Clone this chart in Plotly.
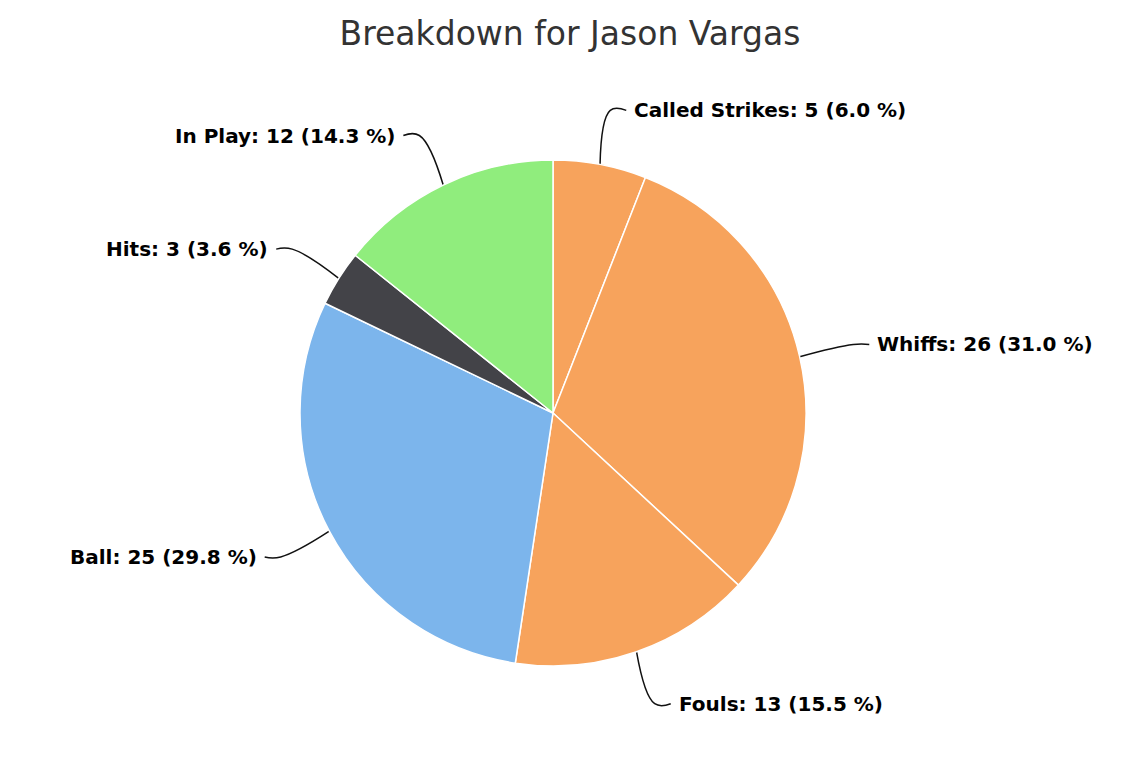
import math
import plotly.graph_objects as go

labels = ['Called Strikes', 'Whiffs', 'Fouls', 'Ball', 'Hits', 'In Play']
counts = [5, 26, 13, 25, 3, 12]
colors = ['#f7a35c', '#f7a35c', '#f7a35c', '#7cb5ec', '#434348', '#90ed7d']
title = 'Breakdown for Jason Vargas'

W, H = 1140, 759
shift = 8                   # the page body adds an 8px margin
cx, cy, r = 553 - shift, 413 - shift, 253   # pie centre and radius in pixels
reach = 55                  # radial length of the connector
hook = 16                   # horizontal bend into the label
pad = 6

total = sum(counts)

fig = go.Figure()
fig.add_trace(go.Pie(labels=labels,
                     values=counts,
                     sort=False,
                     direction='clockwise',
                     rotation=0,
                     textinfo='none',
                     hoverinfo='label+value+percent',
                     marker=dict(colors=colors, line=dict(color='white', width=1.5)),
                     domain=dict(x=[(cx - r) / W, (cx + r) / W],
                                 y=[1 - (cy + r) / H, 1 - (cy - r) / H]),
                     showlegend=False))

annotations = []
cum = 0
for name, n in zip(labels, counts):
    theta = 2 * math.pi * (cum + n / 2) / total
    cum += n
    ux, uy = math.sin(theta), -math.cos(theta)
    side = 1 if ux >= 0 else -1
    x0, y0 = cx + r * ux, cy + r * uy
    x1, y1 = cx + (r + reach) * ux, cy + (r + reach) * uy
    x2, y2 = x1 + side * hook, y1
    fig.add_trace(go.Scatter(x=[x0, x1, x2], y=[y0, y1, y2],
                             mode='lines',
                             line=dict(color='#111111', width=1.5, shape='spline', smoothing=1.2),
                             hoverinfo='skip', showlegend=False))
    annotations.append(dict(x=x2 + side * pad, y=y2, xref='x', yref='y',
                            text='<b>%s: %d (%.1f %%)</b>' % (name, n, 100 * n / total),
                            showarrow=False,
                            xanchor='left' if side > 0 else 'right', yanchor='middle',
                            font=dict(family='DejaVu Sans', size=20, color='#000000')))

fig.update_layout(width=W, height=H,
                  margin=dict(l=0, r=0, t=0, b=0),
                  paper_bgcolor='white', plot_bgcolor='rgba(0,0,0,0)',
                  title=dict(text=title, x=(570 - shift) / W, xanchor='center',
                             y=1 - (33 - shift) / H, yanchor='middle',
                             font=dict(family='DejaVu Sans', size=33, color='#333333')),
                  xaxis=dict(range=[0, W], visible=False, fixedrange=True),
                  yaxis=dict(range=[H, 0], visible=False, fixedrange=True),
                  annotations=annotations)

fig.write_html('out.html')
